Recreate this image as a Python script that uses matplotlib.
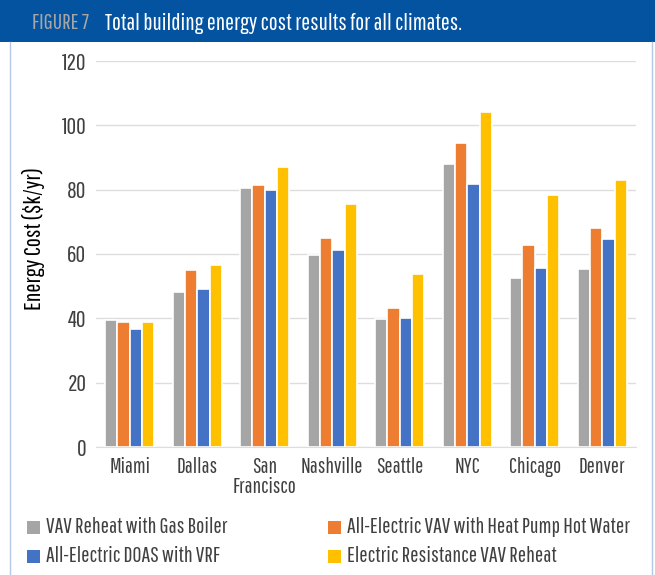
import matplotlib
matplotlib.use("Agg")
import matplotlib.pyplot as plt
from matplotlib.patches import Rectangle
from matplotlib.lines import Line2D
import numpy as np

# datos
ciudades = ["Miami", "Dallas", "San\nFrancisco", "Nashville", "Seattle", "NYC", "Chicago", "Denver"]
series = ["VAV Reheat with Gas Boiler",
          "All-Electric VAV with Heat Pump Hot Water",
          "All-Electric DOAS with VRF",
          "Electric Resistance VAV Reheat"]
gasBoiler = [39.4, 48.1, 80.5, 59.6, 39.8, 88.1, 52.6, 55.3]
bombaCalor = [38.9, 55.0, 81.6, 65.1, 43.1, 94.5, 62.9, 68.2]
doasVrf = [36.8, 49.0, 79.9, 61.2, 40.2, 81.8, 55.6, 64.8]
resistencia = [38.9, 56.5, 87.0, 75.6, 53.9, 104.3, 78.2, 82.9]
valores = [gasBoiler, bombaCalor, doasVrf, resistencia]
colores = ["#A5A5A5", "#ED7D31", "#4472C4", "#FFC000"]
yticks = [0, 20, 40, 60, 80, 100, 120]

# letra estrecha tipo gothic condensed, si no hay se cae a DejaVu
fuente = ["Pathway Gothic One", "Roboto Condensed", "DejaVu Sans"]
plt.rcParams["font.family"] = fuente
textoGris = "#404040"

W, H = 655, 575
fig = plt.figure(figsize=(W / 100, H / 100), dpi=100)

# cabecera azul
fig.patches.append(Rectangle((0, 1 - 42 / H), 1, 42 / H, transform=fig.transFigure,
                             facecolor="#0353A0", edgecolor="none", zorder=0))
fig.text(32 / W, 1 - 23 / H, "FIGURE 7", color="#A6A6A6", fontsize=16, va="center", ha="left")
fig.text(105 / W, 1 - 23 / H, "Total building energy cost results for all climates.",
         color="white", fontsize=17, va="center", ha="left")

# marco lateral
for xp in [10, 652]:
    fig.lines.append(Line2D([xp / W, xp / W], [0, 1 - 42 / H], transform=fig.transFigure,
                            color="#B4C7E7", linewidth=1))

ax = fig.add_axes([96 / W, (H - 447) / H, 540 / W, 386 / H])
x = np.arange(len(ciudades))
ancho = 0.182
for i in range(4):
    ax.bar(x + (i - 1.5) * ancho, valores[i], ancho, color=colores[i],
           edgecolor="white", linewidth=1.2, label=series[i], zorder=3)

ax.set_xlim(-0.5, len(ciudades) - 0.5)
ax.set_ylim(0, 120)
ax.set_yticks(yticks)
ax.set_xticks(x)
ax.set_xticklabels(ciudades, linespacing=1.0)
ax.tick_params(axis="both", length=0, colors=textoGris)
ax.tick_params(axis="y", pad=7, labelsize=17)
ax.tick_params(axis="x", pad=7, labelsize=15.5)
ax.grid(axis="y", color="#DDDDDD", linewidth=1, zorder=0)
for s in ["top", "right", "left"]:
    ax.spines[s].set_visible(False)
ax.spines["bottom"].set_color("#DDDDDD")
ax.set_ylabel("Energy Cost ($k/yr)", fontsize=17.5, color="black")
ax.yaxis.set_label_coords(-0.094, 0.54)

# leyenda a mano: dos columnas
colX = [27, 328]
filaY = [527, 556]
posiciones = [(0, 0), (1, 0), (0, 1), (1, 1)]
for i, (c, f) in enumerate(posiciones):
    fig.patches.append(Rectangle((colX[c] / W, (H - filaY[f] - 6.5) / H), 13 / W, 13 / H,
                                 transform=fig.transFigure, facecolor=colores[i], edgecolor="none"))
    fig.text((colX[c] + 19) / W, (H - filaY[f]) / H, series[i], color=textoGris,
             fontsize=15.8, va="center", ha="left")

fig.savefig("out.png", dpi=100)
